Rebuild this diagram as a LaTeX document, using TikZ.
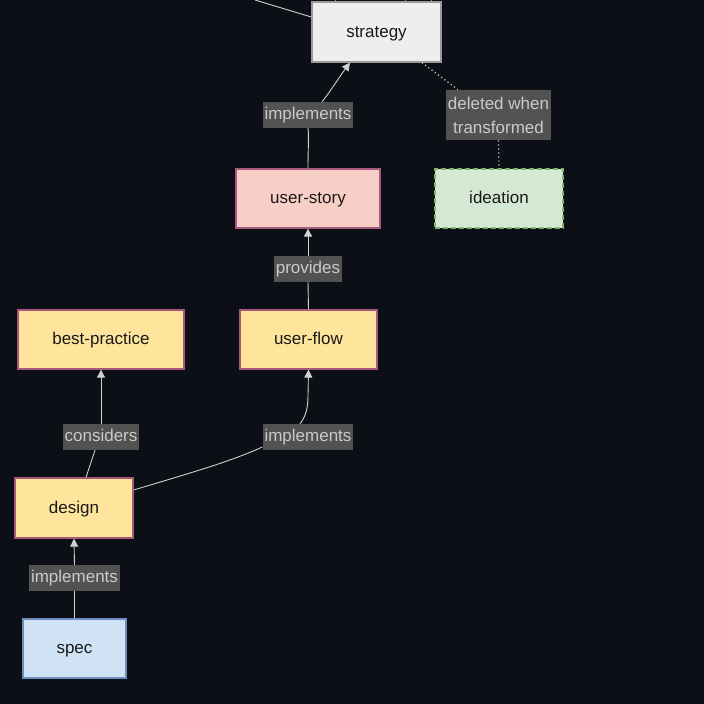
\documentclass[tikz,border=0pt]{standalone}
\usepackage{fontspec}
\setmainfont{Liberation Sans}
\usetikzlibrary{arrows.meta}
\definecolor{bgc}{HTML}{0C0F16}
\definecolor{edgec}{HTML}{D0D0D0}
\definecolor{lblbg}{HTML}{525252}
\definecolor{lbltx}{HTML}{CACACA}
\definecolor{stratfill}{HTML}{EEEEEE}
\definecolor{stratdraw}{HTML}{9A9A9A}
\definecolor{pinkfill}{HTML}{F8CFC7}
\definecolor{mauve}{HTML}{A8587C}
\definecolor{yelfill}{HTML}{FFE59C}
\definecolor{grnfill}{HTML}{D5E8D4}
\definecolor{grndraw}{HTML}{82B366}
\definecolor{blufill}{HTML}{D0E3F4}
\definecolor{bludraw}{HTML}{6C8EBF}
\tikzset{
  box/.style={rectangle, line width=1.3pt, font=\fontsize{17}{20}\selectfont, text=black!90, inner sep=0pt, text height=13pt, text depth=3pt},
  lbl/.style={fill=lblbg, text=lbltx, font=\fontsize{17}{24}\selectfont, inner xsep=2pt, inner ysep=4.5pt, align=center},
  onelbl/.style={lbl, text height=13pt, text depth=4pt},
  edge/.style={draw=edgec, line width=0.9pt},
  arr/.style={edge, -{Triangle[width=8pt,length=8pt]}},
  dotedge/.style={edge, line width=1.2pt, dash pattern=on 1.2pt off 2.8pt}
}
\begin{document}
\begin{tikzpicture}[x=1pt,y=-1pt]
\fill[bgc] (0,0) rectangle (704,704);
\useasboundingbox (0,0) rectangle (704,704);
% nodes
\node[box, fill=stratfill, draw=stratdraw, minimum width=129pt, minimum height=60pt] (strategy) at (376.5,32) {strategy};
\node[box, fill=pinkfill, draw=mauve, minimum width=144pt, minimum height=59pt] (ustory) at (308,198.5) {user-story};
\node[box, fill=grnfill, draw=grndraw, dash pattern=on 5pt off 3pt, minimum width=128pt, minimum height=59pt] (ideation) at (499,198.5) {ideation};
\node[box, fill=yelfill, draw=mauve, minimum width=166pt, minimum height=59pt] (bp) at (101,339.5) {best-practice};
\node[box, fill=yelfill, draw=mauve, minimum width=137pt, minimum height=59pt] (uflow) at (308.5,339.5) {user-flow};
\node[box, fill=yelfill, draw=mauve, minimum width=118pt, minimum height=60pt] (design) at (74,508) {design};
\node[box, fill=blufill, draw=bludraw, minimum width=103pt, minimum height=59pt] (spec) at (74.5,648.5) {spec};
% labels
\node[onelbl] (l1) at (308,115) {implements};
\node[lbl, inner ysep=7pt] (l2) at (498.5,115) {deleted when\\transformed};
\node[onelbl] (l3) at (308,269) {provides};
\node[onelbl] (l4) at (101,437) {considers};
\node[onelbl] (l5) at (308,437) {implements};
\node[onelbl] (l6) at (74.5,578) {implements};
\coordinate (topin) at (255,0);
\coordinate (t1) at (335,0);
\coordinate (t2) at (405,0);
\coordinate (t3) at (431,0);
% edges
\draw[edge] (topin) -- ([yshift=15pt]strategy.west);
\draw[edge, stratdraw] (t1) -- (t1 |- strategy.north);
\draw[edge, stratdraw] (t2) -- (t2 |- strategy.north);
\draw[edge, stratdraw] (t3) -- (t3 |- strategy.north);
\draw[edge] (ustory.north) .. controls (308,150) and (309,135) .. (l1.south);
\draw[arr] ([xshift=14pt]l1.north) .. controls (330,92) and (340,76) .. ([xshift=-26.5pt]strategy.south);
\draw[dotedge] ([xshift=45.5pt]strategy.south) -- ([xshift=12pt]l2.north west);
\draw[dotedge] (l2.south) -- (ideation.north);
\draw[edge] (uflow.north) -- (l3.south);
\draw[arr] (l3.north) -- (ustory.south);
\draw[edge] ([xshift=12pt]design.north) -- ([xshift=-6pt]l4.south);
\draw[arr] (l4.north) -- (bp.south);
\draw[edge] ([yshift=18pt]design.east) .. controls (180,476) and (230,462) .. ([yshift=-10pt]l5.west);
\draw[arr] ([xshift=-8pt]l5.north) .. controls (306,416) and (308,408) .. (308,395) -- (uflow.south);
\draw[edge] (spec.north) -- (l6.south);
\draw[arr] (l6.north) -- (design.south);
\end{tikzpicture}
\end{document}
